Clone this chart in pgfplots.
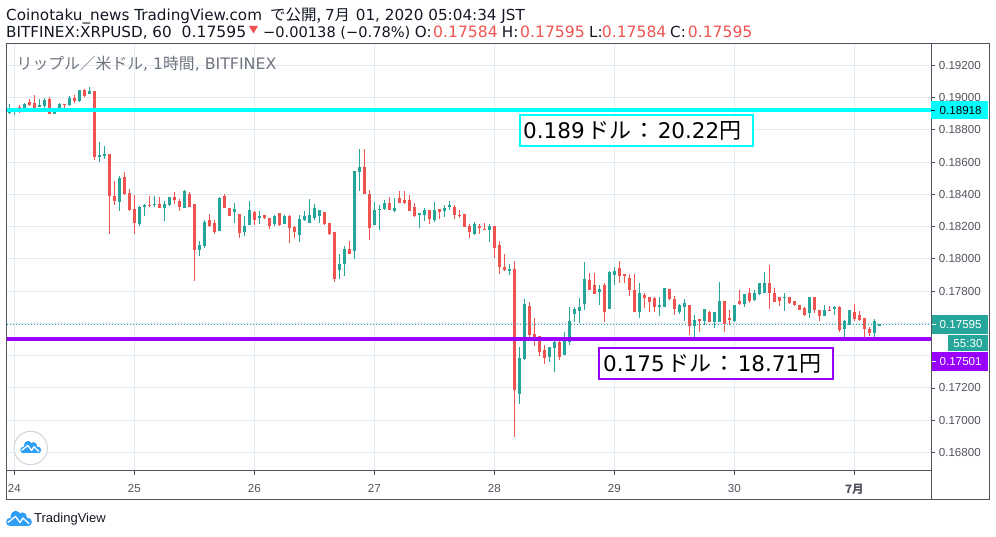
\documentclass[border=0pt]{standalone}
\usepackage{pgfplots}
\usepackage{pgfplotstable}
\usepackage{fontspec}
\pgfplotsset{compat=1.18}
\setmainfont{DejaVu Sans}
\newfontfamily\cjk{Noto Sans CJK JP}
\newfontfamily\tickf{Liberation Sans}
\definecolor{up}{HTML}{26A69A}
\definecolor{dn}{HTML}{EF5350}
\definecolor{cy}{HTML}{00FFFF}
\definecolor{pu}{HTML}{9900FF}
\definecolor{gridc}{HTML}{E1ECF2}
\definecolor{framec}{HTML}{50535E}
\definecolor{txt}{HTML}{131722}
\definecolor{wm}{HTML}{6F737D}
\definecolor{logoc}{HTML}{2E9EF7}
\pgfplotstableread{
x o h l c
-1 0.18907 0.18960 0.18896 0.18929
0 0.18917 0.18931 0.18892 0.18931
2 0.18933 0.18967 0.18927 0.18960
5 0.18942 0.18993 0.18942 0.18956
6 0.18948 0.18999 0.18938 0.18987
8 0.18898 0.18923 0.18898 0.18913
9 0.18936 0.18967 0.18931 0.18960
11 0.18952 0.19010 0.18948 0.18999
13 0.18981 0.19047 0.18975 0.19047
15 0.19022 0.19064 0.19022 0.19041
17 0.18632 0.18725 0.18601 0.18644
18 0.18640 0.18700 0.18619 0.18650
21 0.18355 0.18514 0.18297 0.18502
25 0.18216 0.18328 0.18204 0.18322
26 0.18324 0.18340 0.18266 0.18334
28 0.18334 0.18390 0.18324 0.18340
30 0.18316 0.18359 0.18235 0.18340
31 0.18334 0.18386 0.18330 0.18384
34 0.18316 0.18427 0.18316 0.18421
37 0.18055 0.18111 0.18018 0.18084
38 0.18080 0.18241 0.18068 0.18229
41 0.18175 0.18386 0.18175 0.18378
44 0.18291 0.18347 0.18223 0.18310
46 0.18167 0.18266 0.18142 0.18204
47 0.18210 0.18359 0.18210 0.18303
49 0.18254 0.18297 0.18216 0.18266
52 0.18214 0.18272 0.18204 0.18266
54 0.18216 0.18272 0.18216 0.18268
57 0.18148 0.18272 0.18105 0.18248
58 0.18241 0.18297 0.18235 0.18266
59 0.18223 0.18372 0.18223 0.18272
60 0.18254 0.18340 0.18241 0.18316
61 0.18266 0.18303 0.18223 0.18303
65 0.17932 0.18030 0.17876 0.17969
66 0.17969 0.18080 0.17894 0.18061
68 0.18049 0.18545 0.17999 0.18545
69 0.18539 0.18681 0.18421 0.18570
72 0.18210 0.18353 0.18210 0.18303
73 0.18303 0.18334 0.18179 0.18309
74 0.18309 0.18365 0.18303 0.18346
76 0.18297 0.18377 0.18291 0.18316
81 0.18272 0.18285 0.18192 0.18285
82 0.18272 0.18316 0.18235 0.18303
84 0.18241 0.18353 0.18229 0.18303
86 0.18297 0.18334 0.18260 0.18316
87 0.18322 0.18359 0.18303 0.18334
92 0.18154 0.18229 0.18148 0.18216
95 0.18179 0.18216 0.18105 0.18204
99 0.17925 0.17969 0.17900 0.17938
101 0.17163 0.17454 0.17101 0.17386
102 0.17380 0.17752 0.17373 0.17721
107 0.17392 0.17454 0.17361 0.17454
108 0.17448 0.17491 0.17299 0.17485
110 0.17404 0.17547 0.17404 0.17516
111 0.17485 0.17702 0.17466 0.17615
112 0.17659 0.17702 0.17609 0.17690
113 0.17677 0.17758 0.17603 0.17702
114 0.17721 0.17981 0.17683 0.17876
117 0.17795 0.17838 0.17715 0.17813
119 0.17690 0.17925 0.17690 0.17919
120 0.17900 0.17950 0.17838 0.17925
125 0.17671 0.17851 0.17634 0.17789
129 0.17702 0.17764 0.17646 0.17714
130 0.17702 0.17820 0.17702 0.17820
133 0.17671 0.17720 0.17659 0.17714
134 0.17702 0.17751 0.17615 0.17727
136 0.17584 0.17652 0.17514 0.17621
138 0.17615 0.17690 0.17590 0.17690
140 0.17609 0.17671 0.17572 0.17671
141 0.17609 0.17857 0.17609 0.17739
144 0.17615 0.17714 0.17609 0.17714
146 0.17720 0.17782 0.17702 0.17782
148 0.17745 0.17807 0.17739 0.17789
149 0.17782 0.17851 0.17776 0.17851
150 0.17789 0.17919 0.17789 0.17851
154 0.17758 0.17789 0.17677 0.17764
159 0.17665 0.17764 0.17634 0.17764
162 0.17646 0.17714 0.17646 0.17683
164 0.17690 0.17708 0.17652 0.17702
166 0.17565 0.17621 0.17514 0.17615
167 0.17590 0.17683 0.17590 0.17683
172 0.17541 0.17627 0.17514 0.17615
173 0.17584 0.17595 0.17584 0.17595
}\upT
\pgfplotstableread{
x o h l c
1 0.18940 0.18954 0.18907 0.18913
3 0.18973 0.18991 0.18946 0.18952
4 0.18969 0.19016 0.18923 0.18938
7 0.18991 0.19004 0.18898 0.18898
10 0.18960 0.18960 0.18938 0.18954
12 0.18999 0.19018 0.18969 0.18979
14 0.19047 0.19051 0.19004 0.19010
16 0.19041 0.19041 0.18613 0.18634
19 0.18650 0.18650 0.18155 0.18392
20 0.18390 0.18483 0.18334 0.18357
22 0.18508 0.18539 0.18394 0.18401
23 0.18409 0.18436 0.18297 0.18303
24 0.18310 0.18396 0.18155 0.18225
27 0.18334 0.18390 0.18324 0.18328
29 0.18340 0.18386 0.18316 0.18316
32 0.18384 0.18415 0.18340 0.18365
33 0.18359 0.18372 0.18297 0.18322
35 0.18403 0.18415 0.18322 0.18322
36 0.18340 0.18340 0.17863 0.18055
39 0.18241 0.18278 0.18198 0.18204
40 0.18223 0.18241 0.18155 0.18167
42 0.18390 0.18403 0.18316 0.18316
43 0.18316 0.18316 0.18266 0.18266
45 0.18278 0.18278 0.18130 0.18161
48 0.18291 0.18297 0.18210 0.18241
50 0.18272 0.18272 0.18248 0.18254
51 0.18254 0.18254 0.18186 0.18204
53 0.18285 0.18285 0.18204 0.18210
55 0.18266 0.18272 0.18099 0.18192
56 0.18198 0.18204 0.18130 0.18167
62 0.18291 0.18291 0.18210 0.18216
63 0.18223 0.18223 0.18148 0.18155
64 0.18167 0.18167 0.17857 0.17876
67 0.18061 0.18110 0.18030 0.18030
70 0.18570 0.18681 0.18402 0.18402
71 0.18402 0.18427 0.18117 0.18192
75 0.18346 0.18384 0.18303 0.18303
77 0.18377 0.18421 0.18346 0.18346
78 0.18365 0.18421 0.18340 0.18346
79 0.18365 0.18396 0.18297 0.18297
80 0.18322 0.18346 0.18260 0.18266
83 0.18303 0.18303 0.18216 0.18247
85 0.18309 0.18309 0.18247 0.18291
88 0.18322 0.18334 0.18247 0.18272
89 0.18272 0.18303 0.18254 0.18266
90 0.18278 0.18278 0.18198 0.18198
91 0.18204 0.18216 0.18130 0.18167
93 0.18204 0.18216 0.18154 0.18192
94 0.18185 0.18223 0.18179 0.18179
96 0.18204 0.18204 0.18006 0.18068
97 0.18086 0.18110 0.17906 0.17950
98 0.17950 0.18030 0.17925 0.17932
100 0.17938 0.17987 0.16896 0.17188
103 0.17708 0.17733 0.17516 0.17528
104 0.17535 0.17634 0.17460 0.17516
105 0.17522 0.17522 0.17398 0.17423
106 0.17435 0.17466 0.17349 0.17386
109 0.17485 0.17491 0.17373 0.17392
115 0.17870 0.17913 0.17807 0.17807
116 0.17838 0.17913 0.17783 0.17783
118 0.17838 0.17851 0.17609 0.17671
121 0.17944 0.17987 0.17851 0.17894
122 0.17906 0.17906 0.17851 0.17894
123 0.17882 0.17906 0.17770 0.17807
124 0.17807 0.17906 0.17671 0.17671
126 0.17776 0.17789 0.17696 0.17758
127 0.17764 0.17764 0.17671 0.17733
128 0.17758 0.17764 0.17671 0.17702
131 0.17813 0.17813 0.17745 0.17751
132 0.17751 0.17770 0.17652 0.17690
135 0.17714 0.17714 0.17528 0.17584
137 0.17627 0.17627 0.17547 0.17615
139 0.17671 0.17677 0.17609 0.17609
142 0.17739 0.17739 0.17547 0.17596
143 0.17634 0.17683 0.17590 0.17621
145 0.17739 0.17807 0.17714 0.17720
147 0.17789 0.17820 0.17727 0.17739
151 0.17851 0.17962 0.17690 0.17789
152 0.17789 0.17820 0.17733 0.17733
153 0.17764 0.17764 0.17708 0.17739
155 0.17764 0.17764 0.17720 0.17727
156 0.17739 0.17739 0.17708 0.17714
157 0.17714 0.17714 0.17683 0.17683
158 0.17696 0.17700 0.17646 0.17652
160 0.17764 0.17764 0.17665 0.17683
161 0.17683 0.17683 0.17615 0.17646
163 0.17683 0.17708 0.17677 0.17677
165 0.17702 0.17708 0.17547 0.17559
168 0.17671 0.17720 0.17615 0.17627
169 0.17652 0.17677 0.17615 0.17621
170 0.17634 0.17634 0.17514 0.17565
171 0.17565 0.17578 0.17522 0.17541
}\dnT
\newcommand{\fs}[1]{\fontsize{#1}{#1}\selectfont}
% cloud logo: #1 x, #2 y (centre), #3 x scale, #4 y scale
\newcommand{\cloudlogo}[4]{%
 \begin{scope}[shift={(#1,#2)},xscale=#3,yscale=#4]
  \fill[logoc] (-10,-6.3) rectangle (10,0);
  \fill[logoc] (-10,-3) ellipse (3.8 and 3.3);
  \fill[logoc] (-3.5,1.2) ellipse (5.5 and 5);
  \fill[logoc] (3.8,0.5) ellipse (4.8 and 4.4);
  \fill[logoc] (10,-3) ellipse (3.8 and 3.3);
  \draw[white,line width=1.3pt,line join=round] (-12,-3.4) -- (-3.8,1.5) -- (1.2,-3.5) -- (4.2,0.2) -- (11,-4.5);
 \end{scope}}
\begin{document}
\begin{tikzpicture}[x=1pt,y=1pt]
\path[use as bounding box] (0,0) rectangle (996,537);
\begin{axis}[
  at={(6.5pt,66pt)}, anchor=south west,
  scale only axis, width=924.8pt, height=427pt,
  xmin=-1.566, xmax=183.39, ymin=0.166855, ymax=0.19332,
  xtick={0,24,48,72,96,120,144,168},
  xticklabels={24,25,26,27,28,29,30,{\cjk\bfseries 7月}},
  ytick={0.168,0.170,0.172,0.174,0.176,0.178,0.180,0.182,0.184,0.186,0.188,0.190,0.192},
  yticklabels={0.16800,0.17000,0.17200,{},{},0.17800,0.18000,0.18200,0.18400,0.18600,0.18800,0.19000,0.19200},
  scaled y ticks=false,
  yticklabel pos=right, ytick pos=right, xtick pos=bottom,
  tick align=outside, major tick length=4pt,
  tick style={color=framec,line width=0.9pt},
  grid=major, grid style={color=gridc,line width=1pt},
  axis line style={color=framec,line width=1pt},
  every tick label/.append style={font=\tickf\fs{11.6},text=framec},
  xticklabel style={yshift=-6pt},
]
% wicks
\addplot[draw=none,forget plot,error bars/.cd,y dir=both,y explicit,error mark=none,
  error bar style={draw=up,line width=1pt,solid}]
  table[x=x,y=o,y error plus expr=\thisrow{h}-\thisrow{o},y error minus expr=\thisrow{o}-\thisrow{l}] {\upT};
\addplot[draw=none,forget plot,error bars/.cd,y dir=both,y explicit,error mark=none,
  error bar style={draw=dn,line width=1pt,solid}]
  table[x=x,y=o,y error plus expr=\thisrow{h}-\thisrow{o},y error minus expr=\thisrow{o}-\thisrow{l}] {\dnT};
% bodies
\addplot[draw=none,forget plot,error bars/.cd,y dir=plus,y explicit,error mark=none,
  error bar style={draw=up,line width=3pt,solid}]
  table[x=x,y=o,y error plus expr=\thisrow{c}-\thisrow{o}] {\upT};
\addplot[draw=none,forget plot,error bars/.cd,y dir=minus,y explicit,error mark=none,
  error bar style={draw=dn,line width=3pt,solid}]
  table[x=x,y=o,y error minus expr=\thisrow{o}-\thisrow{c}] {\dnT};
% last price line
\addplot[up,line width=1pt,dash pattern=on 1.5pt off 1.5pt,forget plot] coordinates {(-1.566,0.17595) (183.39,0.17595)};
% horizontal levels
\addplot[cy,line width=4pt,forget plot] coordinates {(-1.566,0.18923) (183.39,0.18923)};
\addplot[pu,line width=4pt,forget plot] coordinates {(-1.566,0.17504) (183.39,0.17504)};
\end{axis}
% outer frame
\draw[framec,line width=1pt] (6.5,66) rectangle (931.3,493);
\draw[framec,line width=1pt] (6.5,37) rectangle (989.3,493);
\draw[framec,line width=1pt] (931.3,37) -- (931.3,493);
% price labels
\fill[cy] (931.3,418) rectangle (988,436);
\draw[black,line width=0.9pt] (931.3,426.5) -- (935.3,426.5);
\node[anchor=base west,inner sep=0,text=black,font=\tickf\fs{11.6}] at (939.5,422.5) {0.18918};
\fill[up] (931.8,203) rectangle (988,222);
\draw[white,line width=0.9pt] (931.8,213) -- (935.8,213);
\node[anchor=base west,inner sep=0,text=white,font=\tickf\fs{11.6}] at (939.5,208.5) {0.17595};
\fill[up] (948,186) rectangle (988,201.7);
\node[anchor=base,inner sep=0,text=white,font=\tickf\fs{11.6}] at (968,189.5) {55:30};
\fill[pu] (931.8,166.3) rectangle (988,185);
\draw[white,line width=0.9pt] (931.8,176) -- (935.8,176);
\node[anchor=base west,inner sep=0,text=white,font=\tickf\fs{11.6}] at (939.5,171.5) {0.17501};
% annotation boxes
\draw[cy,line width=2pt,fill=white] (519.5,390.5) rectangle (753,422);
\node[anchor=base west,inner sep=0,text=black] at (523,398.7) {\fs{21.5}0.189\hspace{3pt}{\cjk\fs{22}ドル\hspace{2pt}：\hspace{2pt}}20.22{\cjk\fs{22}円}};
\draw[pu,line width=2pt,fill=white] (599,157.5) rectangle (833,189);
\node[anchor=base west,inner sep=0,text=black] at (603,165) {\fs{21.5}0.175\hspace{3pt}{\cjk\fs{22}ドル\hspace{2pt}：\hspace{2pt}}18.71{\cjk\fs{22}円}};
% header
\node[anchor=base west,inner sep=0,text=txt,font=\fs{15.2}] at (6,516) {Coinotaku\_news TradingView.com};
\node[anchor=base west,inner sep=0,text=txt,font=\cjk\fs{15.5}] at (270,516) {で公開,};
\node[anchor=base west,inner sep=0,text=txt] at (325,516) {\fs{15.2}7{\cjk\fs{15}月}};
\node[anchor=base west,inner sep=0,text=txt,font=\fs{15.2}] at (355.7,516) {01, 2020 05:04:34 JST};
\node[anchor=base west,inner sep=0,text=txt,font=\fs{15.2}] at (6,499.3) {BITFINEX:XRPUSD, 60};
\node[anchor=base west,inner sep=0,text=txt,font=\fs{15.6}] at (181.5,499.3) {0.17595};
\fill[dn] (249,511) -- (258,511) -- (253.5,503.5) -- cycle;
\node[anchor=base west,inner sep=0,text=txt,font=\fs{14.6}] at (263,499.3) {−0.00138 (−0.78\%)};
\node[anchor=base west,inner sep=0,text=txt,font=\fs{15.2}] at (414.7,499.3) {O:};
\node[anchor=base west,inner sep=0,text=dn,font=\fs{15.6}] at (433,499.3) {0.17584};
\node[anchor=base west,inner sep=0,text=txt,font=\fs{15.2}] at (501.7,499.3) {H:};
\node[anchor=base west,inner sep=0,text=dn,font=\fs{15.6}] at (520,499.3) {0.17595};
\node[anchor=base west,inner sep=0,text=txt,font=\fs{15.2}] at (589,499.3) {L:};
\node[anchor=base west,inner sep=0,text=dn,font=\fs{15.6}] at (601.7,499.3) {0.17584};
\node[anchor=base west,inner sep=0,text=txt,font=\fs{15.2}] at (670,499.3) {C:};
\node[anchor=base west,inner sep=0,text=dn,font=\fs{15.6}] at (687.7,499.3) {0.17595};
% watermark
\node[anchor=base west,inner sep=0,text=wm] at (16.5,467) {\fs{15.8}{\cjk リップル／米ドル}, 1{\cjk 時間}, BITFINEX};
% logos
\draw[gridc!80!gray,line width=1pt,fill=white] (30.7,89) circle (16.7);
\cloudlogo{30.7}{90}{0.75}{1}
\cloudlogo{19}{18.7}{0.93}{1.22}
\node[anchor=base west,inner sep=0,text=txt,font=\tickf\fs{13}] at (34,14.5) {TradingView};
\end{tikzpicture}
\end{document}
